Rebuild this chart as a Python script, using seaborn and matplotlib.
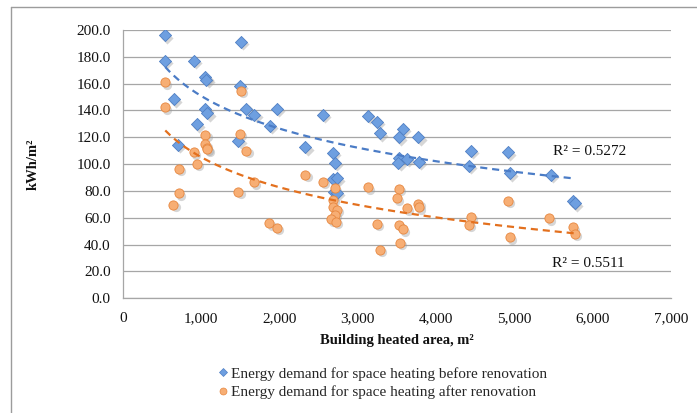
import numpy as np
import pandas as pd
import matplotlib
matplotlib.use("Agg")
import matplotlib.pyplot as plt
import matplotlib.transforms as mtransforms
from matplotlib.lines import Line2D
import seaborn as sns

# ---- data ----
before_area = [540, 540, 903, 1503, 1051, 1065, 647, 1490, 1051, 1077, 1575, 1677, 1967, 2554,
               945, 1873, 706, 1473, 2329, 2686, 2704, 2686, 2737, 2690, 2730, 3125, 3240, 3282,
               3572, 3529, 3772, 4444, 4921, 3529, 3631, 3517, 3784, 4423, 4943, 5462, 5745, 5770]
before_kwh = [196.0, 176.8, 176.8, 191.0, 164.6, 162.6, 148.2, 158.4, 140.8, 137.8, 141.2, 137.0,
              141.2, 137.0, 129.6, 128.3, 114.4, 117.4, 112.5, 108.5, 101.0, 88.6, 89.4, 79.5,
              78.5, 136.0, 131.5, 122.9, 126.1, 119.9, 119.9, 109.7, 108.7, 104.7, 103.8, 101.0,
              101.8, 98.5, 93.1, 91.8, 72.3, 70.8]

after_area = [540, 540, 1503, 1051, 1490, 1051, 1069, 1077, 903, 1575, 945, 711, 711, 643, 1473,
              1673, 1869, 1967, 2329, 2550, 2708, 2686, 2686, 2737, 2708, 2656, 2720, 3125, 3525,
              3495, 3623, 3772, 3784, 3240, 3529, 3572, 3282, 3538, 4440, 4423, 4921, 4943, 5441,
              5743, 5773]
after_kwh = [160.9, 142.3, 154.6, 121.9, 122.6, 114.7, 111.7, 111.0, 108.8, 109.9, 100.0, 96.3,
             78.2, 69.5, 79.4, 86.4, 55.9, 52.4, 91.8, 86.9, 81.9, 73.2, 68.2, 65.8, 62.0, 58.8,
             57.1, 82.7, 81.4, 74.5, 67.0, 70.2, 67.8, 55.3, 54.6, 51.4, 36.0, 41.4, 60.8, 54.6,
             72.5, 45.4, 59.6, 52.9, 47.9]

series_names = ["Energy demand for space heating before renovation",
                "Energy demand for space heating after renovation"]
r2_labels = ["R² = 0.5272", "R² = 0.5511"]
x_label = "Building heated area, m²"
y_label = "kWh/m²"

# ---- style ----
sns.set_style("white")
plt.rcParams["font.family"] = ["Liberation Serif", "DejaVu Serif"]

blue_fill, blue_edge, blue_line = "#6E9FE0", "#4F7FC4", "#4B7CC6"
orange_fill, orange_edge, orange_line = "#F7AE74", "#E7873F", "#E3701E"

fig = plt.figure(figsize=(6.97, 4.13), dpi=100)
ax = fig.add_axes([123 / 697, 1 - 298.3 / 413, (671 - 123) / 697, (298.3 - 30) / 413])

df_b = pd.DataFrame({"area": before_area, "kwh": before_kwh})
df_a = pd.DataFrame({"area": after_area, "kwh": after_kwh})

s_d, s_o = 38, 44

# soft shadows like the Excel markers
shadow = mtransforms.offset_copy(ax.transData, fig=fig, x=1.6, y=-1.6, units="points")
for d, mk, s in [(df_b, "D", s_d), (df_a, "o", s_o)]:
    ax.scatter(d["area"], d["kwh"], marker=mk, s=s, color="#9a9a9a", alpha=0.4,
               linewidths=0, transform=shadow, zorder=2)

sns.scatterplot(data=df_b, x="area", y="kwh", marker="D", s=s_d, color=blue_fill,
                edgecolor=blue_edge, linewidth=0.6, ax=ax, zorder=3)
sns.scatterplot(data=df_a, x="area", y="kwh", marker="o", s=s_o, color=orange_fill,
                edgecolor=orange_edge, linewidth=0.6, ax=ax, zorder=3)

# logarithmic trend lines fitted from the data
for d, col in [(df_b, blue_line), (df_a, orange_line)]:
    b, a = np.polyfit(np.log(d["area"]), d["kwh"], 1)
    xs = np.linspace(d["area"].min(), d["area"].max(), 200)
    ax.plot(xs, a + b * np.log(xs), linestyle=(0, (3.2, 2.2)), color=col, lw=1.6, zorder=4)

ax.text(5490, 109.5, r2_labels[0], fontsize=11, va="center", ha="left", color="#111111")
ax.text(5480, 26.3, r2_labels[1], fontsize=11, va="center", ha="left", color="#111111")

ax.set_xlim(0, 7000)
ax.set_ylim(0, 200)
ax.set_xticks(np.arange(0, 7001, 1000))
ax.set_yticks(np.arange(0, 200.1, 20))
ax.set_xticklabels([f"{v:,}" for v in range(0, 7001, 1000)])
ax.set_yticklabels([f"{v:.1f}" for v in np.arange(0, 200.1, 20)])
ax.yaxis.grid(True, color="#a6a6a6", lw=0.9)
ax.xaxis.grid(False)
for side in ["top", "right"]:
    ax.spines[side].set_visible(False)
for side in ["left", "bottom"]:
    ax.spines[side].set_color("#a6a6a6")
    ax.spines[side].set_linewidth(0.9)
ax.tick_params(axis="both", direction="out", length=5, width=0.9, color="#a6a6a6",
               labelsize=11, labelcolor="#111111", pad=4)
ax.tick_params(axis="x", pad=5)
ax.set_axisbelow(True)

ax.set_xlabel(x_label, fontsize=10.5, fontweight="bold", labelpad=6, color="#111111")
ax.set_ylabel(y_label, fontsize=10.5, fontweight="bold", labelpad=26, color="#111111")

handles = [Line2D([], [], marker="D", ls="", markersize=4.2, markerfacecolor=blue_fill,
                  markeredgecolor=blue_edge, markeredgewidth=0.5),
           Line2D([], [], marker="o", ls="", markersize=5, markerfacecolor=orange_fill,
                  markeredgecolor=orange_edge, markeredgewidth=0.5)]
fig.legend(handles, series_names, loc="center", bbox_to_anchor=(383 / 697, 1 - 383 / 413),
           frameon=False, fontsize=11, handlelength=0.6, handletextpad=0.2,
           labelspacing=0.3, borderpad=0)

# outer chart frame (left and top edges visible in the crop)
fig.add_artist(Line2D([11 / 697, 11 / 697], [0, 1 - 7 / 413], transform=fig.transFigure,
                      color="#9c9c9c", lw=1.0))
fig.add_artist(Line2D([11 / 697, 1], [1 - 7 / 413, 1 - 7 / 413], transform=fig.transFigure,
                      color="#9c9c9c", lw=1.0))

fig.savefig("out.png", dpi=100)
